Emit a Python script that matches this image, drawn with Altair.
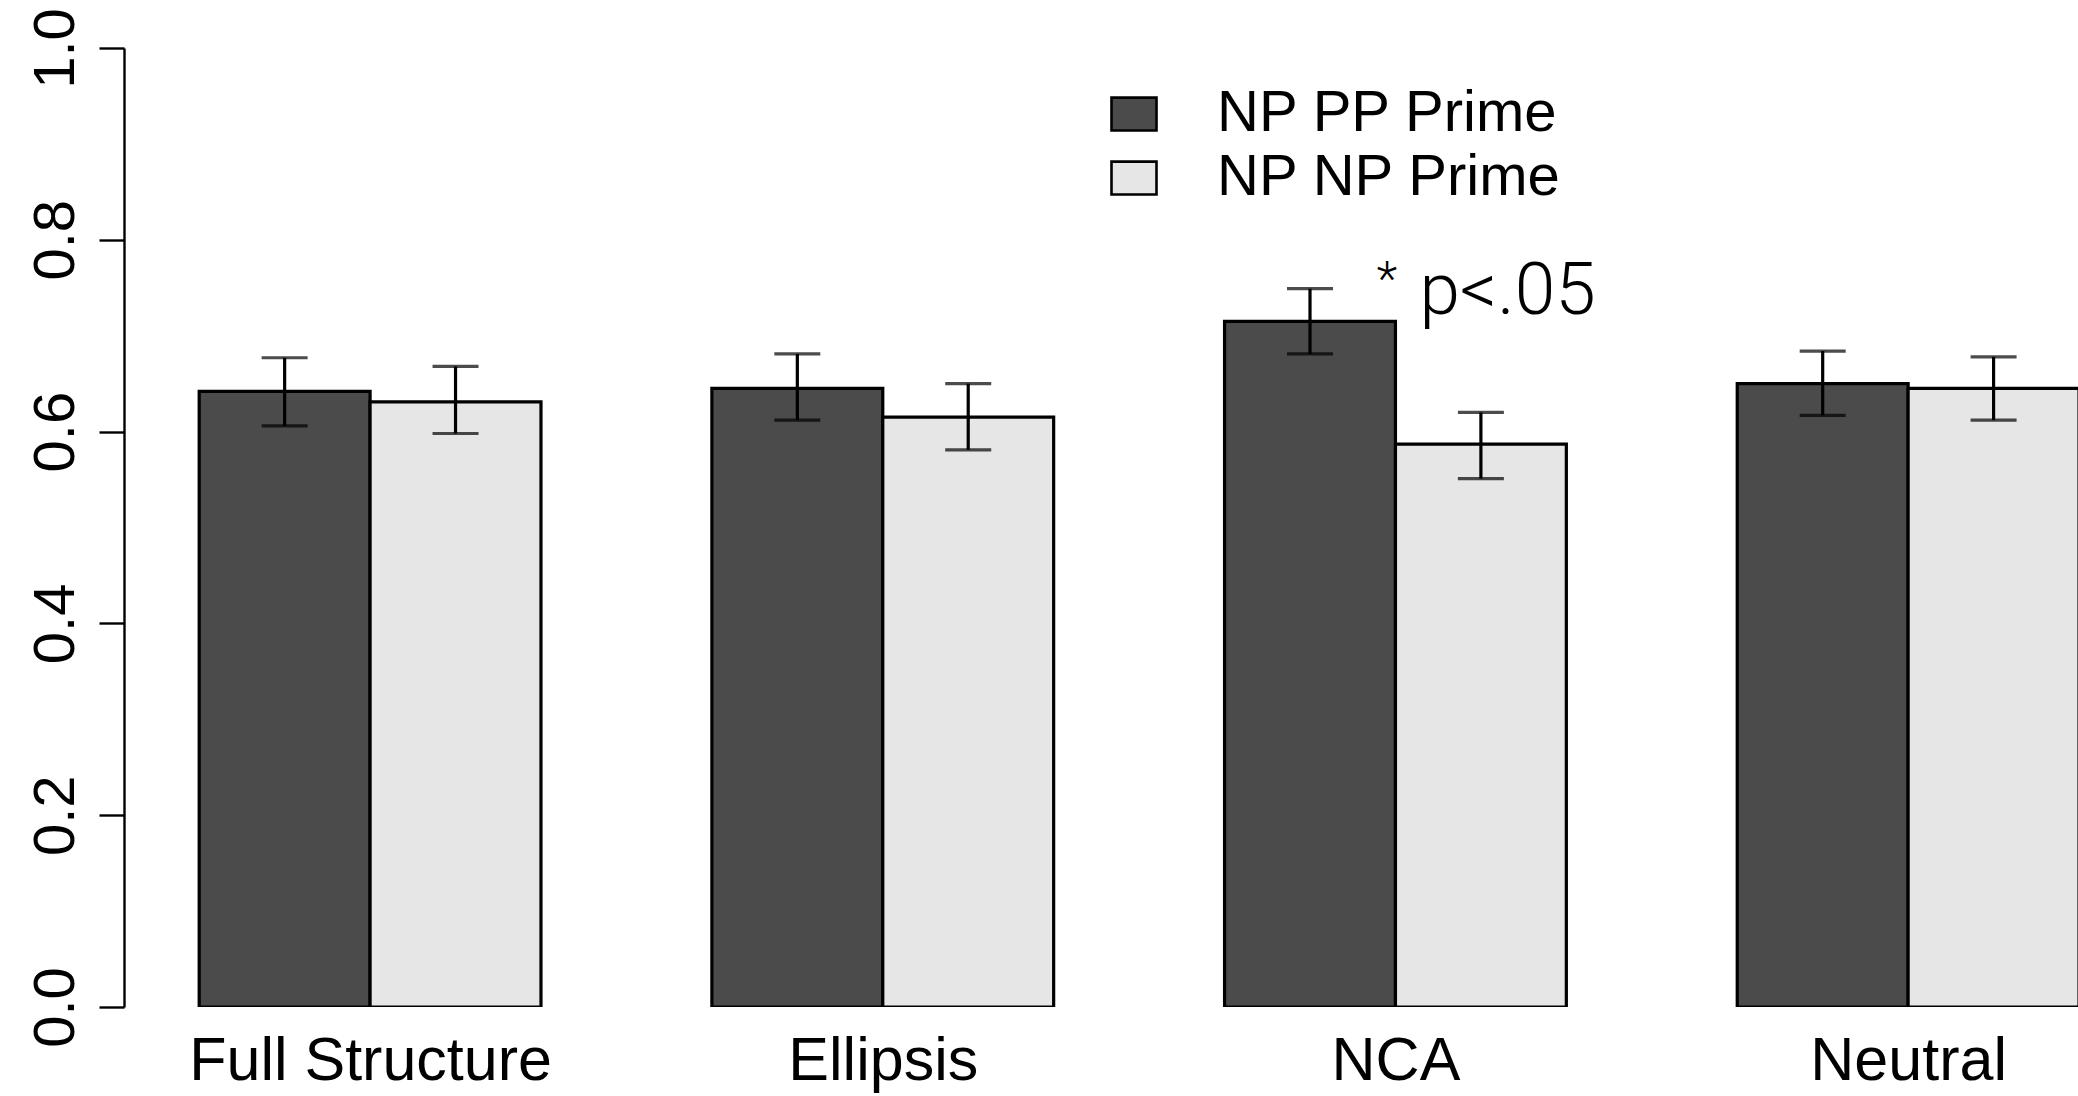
import altair as alt
import pandas as pd

categories = ["Full Structure", "Ellipsis", "NCA", "Neutral"]
series = ["NP PP Prime", "NP NP Prime"]
pp_mean = [0.642, 0.645, 0.715, 0.650]
pp_lo = [0.606, 0.612, 0.681, 0.617]
pp_hi = [0.677, 0.681, 0.749, 0.684]
np_mean = [0.631, 0.615, 0.587, 0.645]
np_lo = [0.598, 0.581, 0.551, 0.612]
np_hi = [0.668, 0.650, 0.620, 0.678]
y_ticks = [0.0, 0.2, 0.4, 0.6, 0.8, 1.0]

rows = []
for i, cat in enumerate(categories):
    for j, (s, m, lo, hi) in enumerate([
        (series[0], pp_mean[i], pp_lo[i], pp_hi[i]),
        (series[1], np_mean[i], np_lo[i], np_hi[i]),
    ]):
        left = 3 * i + 1 + j
        rows.append({"category": cat, "series": s, "x0": left, "x1": left + 1,
                     "xc": left + 0.5, "value": m, "lo": lo, "hi": hi})
df = pd.DataFrame(rows)

annot = pd.DataFrame([{"x": 8.14, "y": 0.746, "text": "p<.05"}])
star = pd.DataFrame([{"x": 7.95, "y": 0.757, "text": "*"}])

FONT = "Liberation Sans"
xscale = alt.Scale(domain=[0.56, 11.994], nice=False, zero=False)
yscale = alt.Scale(domain=[0, 1], nice=False)
SW = 3.2

xaxis = alt.Axis(values=[2, 5, 8, 11], title=None, domain=False, ticks=False,
                 grid=False, labelFontSize=61, labelFont=FONT, labelColor="black",
                 labelPadding=24, labelLimit=0,
                 labelExpr="['Full Structure','Ellipsis','NCA','Neutral'][round((datum.value-2)/3)]")
yaxis = alt.Axis(values=y_ticks, format=".1f", title=None, grid=False,
                 domainColor="black", domainWidth=2.4, tickColor="black",
                 tickWidth=2.4, tickSize=25, labelAngle=-90, labelAlign="center",
                 labelBaseline="bottom", labelPadding=14, labelFontSize=58,
                 labelFont=FONT, labelColor="black", labelLimit=0)

base = alt.Chart(df)

bars = base.mark_rect(stroke="black", strokeWidth=SW, clip=True).encode(
    x=alt.X("x0:Q", scale=xscale, axis=xaxis),
    x2="x1:Q",
    y=alt.Y("value:Q", scale=yscale, axis=yaxis),
    y2=alt.datum(0),
    fill=alt.Color("series:N", scale=alt.Scale(domain=series, range=["#4B4B4B", "#E6E6E6"]),
                   legend=alt.Legend(title=None, orient="none", legendX=981, legendY=37,
                                     symbolType="M-1,-0.73H1V0.73H-1Z", symbolSize=2025,
                                     symbolStrokeColor="black", symbolStrokeWidth=2.6,
                                     labelFontSize=58, labelFont=FONT, labelColor="black",
                                     labelOffset=54, rowPadding=6, symbolOpacity=1,
                                     labelLimit=0)),
)

err = base.mark_rule(color="black", strokeWidth=SW).encode(
    x=alt.X("xc:Q", scale=xscale, axis=xaxis), y=alt.Y("lo:Q", scale=yscale, axis=yaxis), y2="hi:Q")
cap_hi = base.mark_tick(color="black", thickness=SW, size=46, orient="horizontal").encode(
    x=alt.X("xc:Q", scale=xscale, axis=xaxis), y=alt.Y("hi:Q", scale=yscale, axis=yaxis))
cap_lo = base.mark_tick(color="black", thickness=SW, size=46, orient="horizontal").encode(
    x=alt.X("xc:Q", scale=xscale, axis=xaxis), y=alt.Y("lo:Q", scale=yscale, axis=yaxis))

txt = alt.Chart(annot).mark_text(font="Roboto", fontWeight=300, fontSize=73, align="left",
                                 baseline="middle", color="black").encode(
    x=alt.X("x:Q", scale=xscale, axis=xaxis), y=alt.Y("y:Q", scale=yscale, axis=yaxis), text="text:N")
star_t = alt.Chart(star).mark_text(font="Roboto", fontWeight=300, fontSize=48, align="center",
                                   baseline="middle", color="black").encode(
    x=alt.X("x:Q", scale=xscale, axis=xaxis), y=alt.Y("y:Q", scale=yscale, axis=yaxis), text="text:N")

chart = alt.layer(bars, err, cap_hi, cap_lo, txt, star_t).properties(
    width=1954, height=959,
    padding={"left": 124, "top": 48, "right": 0, "bottom": 89},
    autosize=alt.AutoSizeParams(type="none"),
    background="white",
).configure_view(stroke=None)

chart.save("out.html", embed_options={"renderer": "svg", "actions": False})
